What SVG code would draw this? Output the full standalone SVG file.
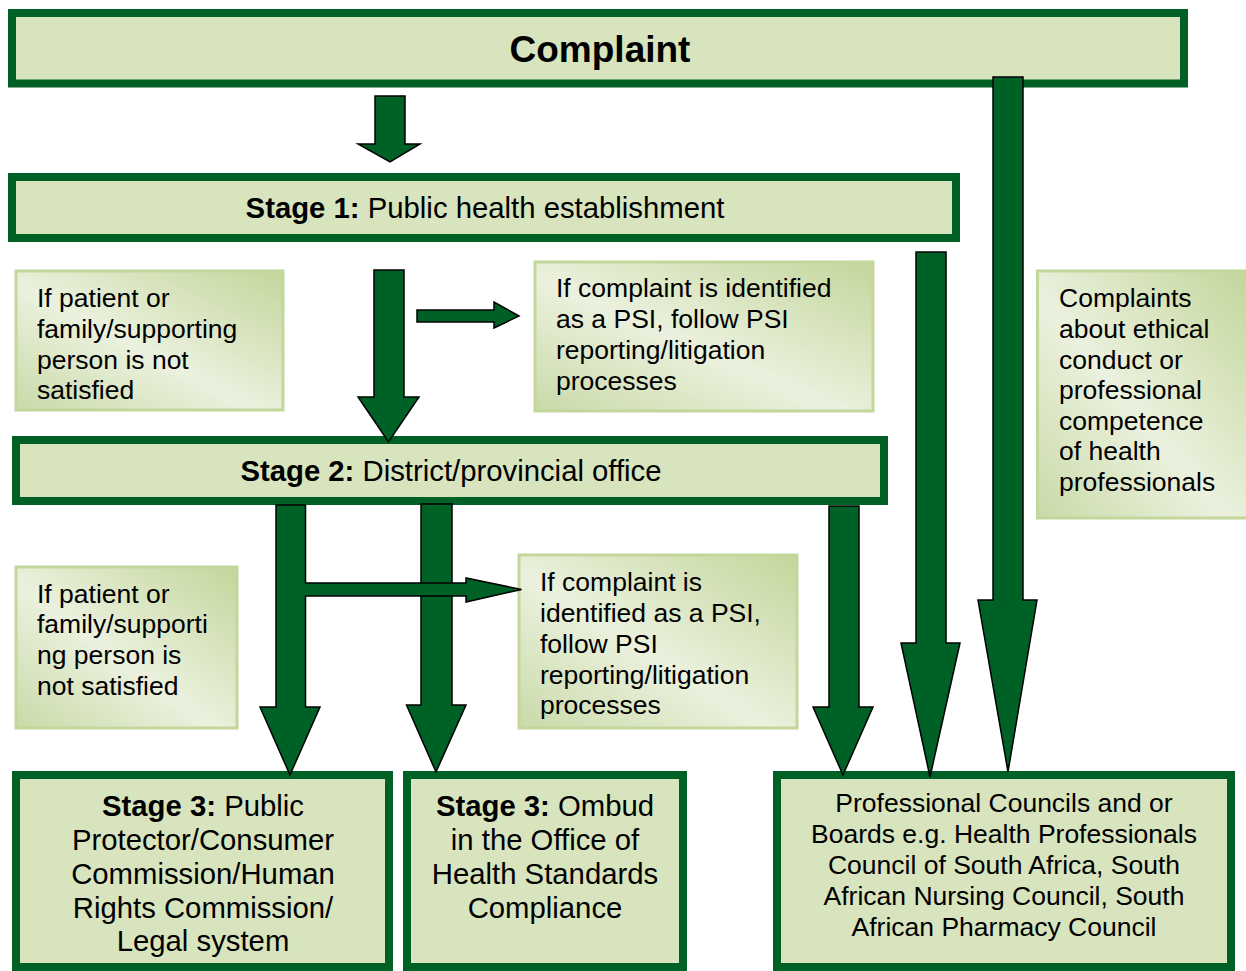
<svg xmlns="http://www.w3.org/2000/svg" width="1246" height="971" viewBox="0 0 1246 971">
<defs>
<linearGradient id="sideGrad" x1="1" y1="0" x2="0" y2="1">
<stop offset="0" stop-color="#c3d69b"/>
<stop offset="0.55" stop-color="#ebf1de"/>
<stop offset="1" stop-color="#c9daa8"/>
</linearGradient>
<style>
.main{fill:#d7e4bd;stroke:#006127;stroke-width:8}
.side{fill:url(#sideGrad);stroke:#c3d69b;stroke-width:3}
.arr{fill:#006127;stroke:#000;stroke-width:1.5;stroke-linejoin:miter}
.t{font-family:"Liberation Sans",Arial,sans-serif;fill:#000}
.s26{font-size:26.5px}
.s29{font-size:29.3px}
.c{text-anchor:middle}
.b{font-weight:bold}
</style>
</defs>
<rect width="1246" height="971" fill="#fff"/>

<g id="complaint">
<rect class="main" x="12" y="13" width="1172" height="70.5"/>
<text class="t b c" x="600" y="62" font-size="37">Complaint</text>
</g>

<g id="stage1">
<rect class="main" x="12" y="177" width="944" height="61"/>
<text class="t s29 c" x="485" y="218"><tspan class="b">Stage 1:</tspan> Public health establishment</text>
</g>

<g id="note-patient1">
<rect class="side" x="16" y="271" width="267" height="139"/>
<text class="t s26" x="37" y="307">If patient or</text>
<text class="t s26" x="37" y="338">family/supporting</text>
<text class="t s26" x="37" y="369">person is not</text>
<text class="t s26" x="37" y="399">satisfied</text>
</g>

<g id="note-psi1">
<rect class="side" x="535" y="262" width="338" height="149"/>
<text class="t s26" x="556" y="297">If complaint is identified</text>
<text class="t s26" x="556" y="328">as a PSI, follow PSI</text>
<text class="t s26" x="556" y="359">reporting/litigation</text>
<text class="t s26" x="556" y="390">processes</text>
</g>

<g id="note-ethics">
<rect class="side" x="1037.5" y="271" width="210" height="247"/>
<text class="t s26" x="1059" y="307">Complaints</text>
<text class="t s26" x="1059" y="338">about ethical</text>
<text class="t s26" x="1059" y="369">conduct or</text>
<text class="t s26" x="1059" y="399">professional</text>
<text class="t s26" x="1059" y="430">competence</text>
<text class="t s26" x="1059" y="460">of health</text>
<text class="t s26" x="1059" y="491">professionals</text>
</g>

<g id="stage2">
<rect class="main" x="16" y="440" width="868" height="61"/>
<text class="t s29 c" x="451" y="481"><tspan class="b">Stage 2:</tspan> District/provincial office</text>
</g>

<g id="note-patient2">
<rect class="side" x="16" y="567" width="221" height="161"/>
<text class="t s26" x="37" y="603">If patient or</text>
<text class="t s26" x="37" y="633">family/supporti</text>
<text class="t s26" x="37" y="664">ng person is</text>
<text class="t s26" x="37" y="695">not satisfied</text>
</g>

<g id="note-psi2">
<rect class="side" x="519" y="555" width="278" height="173"/>
<text class="t s26" x="540" y="591">If complaint is</text>
<text class="t s26" x="540" y="622">identified as a PSI,</text>
<text class="t s26" x="540" y="653">follow PSI</text>
<text class="t s26" x="540" y="684">reporting/litigation</text>
<text class="t s26" x="540" y="714">processes</text>
</g>

<g id="stage3-public">
<rect class="main" x="16" y="775" width="373" height="192"/>
<text class="t s29 c" x="203" y="816"><tspan class="b">Stage 3:</tspan> Public</text>
<text class="t s29 c" x="203" y="850">Protector/Consumer</text>
<text class="t s29 c" x="203" y="884">Commission/Human</text>
<text class="t s29 c" x="203" y="918">Rights Commission/</text>
<text class="t s29 c" x="203" y="951">Legal system</text>
</g>

<g id="stage3-ombud">
<rect class="main" x="407" y="775" width="276" height="192"/>
<text class="t s29 c" x="545" y="816"><tspan class="b">Stage 3:</tspan> Ombud</text>
<text class="t s29 c" x="545" y="850">in the Office of</text>
<text class="t s29 c" x="545" y="884">Health Standards</text>
<text class="t s29 c" x="545" y="918">Compliance</text>
</g>

<g id="councils">
<rect class="main" x="777" y="775" width="454" height="192"/>
<text class="t s26 c" x="1004" y="812">Professional Councils and or</text>
<text class="t s26 c" x="1004" y="843">Boards e.g. Health Professionals</text>
<text class="t s26 c" x="1004" y="874">Council of South Africa, South</text>
<text class="t s26 c" x="1004" y="905">African Nursing Council, South</text>
<text class="t s26 c" x="1004" y="936">African Pharmacy Council</text>
</g>

<g id="connectors">
<polygon class="arr" points="375,96 405,96 405,144 420,144 390,162 358,144 375,144"/>
<polygon class="arr" points="374,270 404,270 404,397 419,397 388.5,442 358,397 374,397"/>
<polygon class="arr" points="417,310 494,310 494,302 519,316 494,328 494,322 417,322"/>
<polygon class="arr" points="993,77 1023,77 1023,600 1037,600 1008,772 978,600 993,600"/>
<polygon class="arr" points="916,252 946,252 946,643 960,643 930,777 901,643 916,643"/>
<polygon class="arr" points="829,506 859,506 859,707 873,707 843,775 813,707 829,707"/>
<polygon class="arr" points="276,505 305.5,505 305.5,707 320,707 290,775 260,707 276,707"/>
<polygon class="arr" points="421,504 452,504 452,705 466,705 436,772 406.5,705 421,705"/>
<path d="M305.5,583 H466 V578 L521.5,589.5 L466,602 V596 H305.5 Z" fill="#006127"/>
<path d="M305.5,583 H466 V578 L521.5,589.5 L466,602 V596 H305.5" fill="none" stroke="#000" stroke-width="1.5"/>
<rect x="303" y="583.8" width="5" height="11.4" fill="#006127"/>
</g>
</svg>
